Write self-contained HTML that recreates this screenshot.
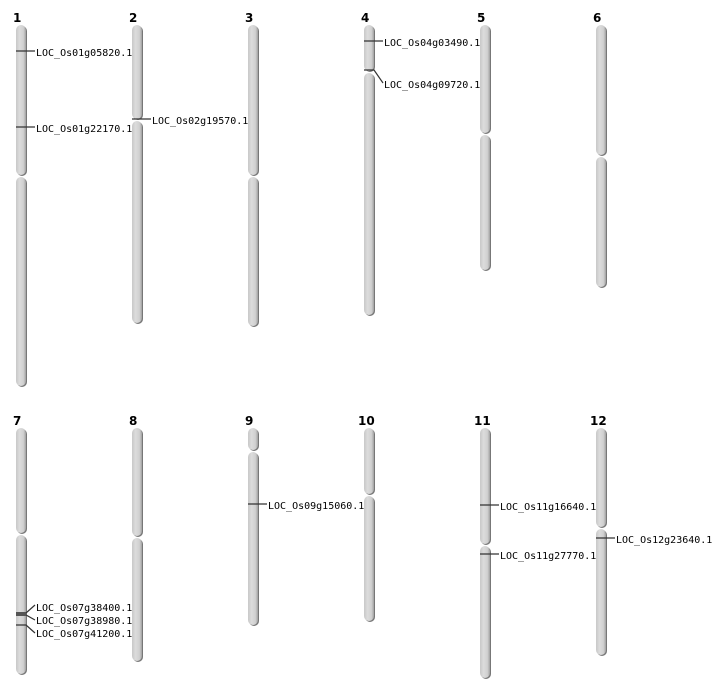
<!DOCTYPE html>
<html><head><style>
html,body{margin:0;padding:0;background:#fff;width:712px;height:700px;overflow:hidden}
text{font-family:"DejaVu Sans Mono","Liberation Mono",monospace;font-size:10px;fill:#000}
.n{font-family:"DejaVu Sans","Liberation Sans",sans-serif;font-weight:bold;font-size:12px}
</style></head><body>
<svg width="712" height="700" xmlns="http://www.w3.org/2000/svg">
<defs>
<linearGradient id="g" x1="0" x2="1" y1="0" y2="0">
<stop offset="0" stop-color="#c8c8c8"/><stop offset="0.35" stop-color="#dcdcdc"/><stop offset="0.75" stop-color="#d0d0d0"/><stop offset="1" stop-color="#a0a0a0"/>
</linearGradient>
</defs>
<g id="chroms"></g>
<g stroke="#333" stroke-width="1.2" fill="none">
<line x1="16" y1="51" x2="35" y2="51"/>
<line x1="16" y1="127" x2="35" y2="127"/>
<line x1="132" y1="119" x2="151" y2="119"/>
<line x1="364" y1="41" x2="383" y2="41"/>
<polyline points="364,70 374,70 383,83"/>
<line x1="248" y1="504" x2="267" y2="504"/>
<line x1="480" y1="505" x2="499" y2="505"/>
<line x1="480" y1="554" x2="499" y2="554"/>
<line x1="596" y1="538" x2="615" y2="538"/>
<polyline points="16,613 26,613 35,605"/>
<polyline points="16,615 26,615 35,620"/>
<polyline points="16,625 26,625 35,633"/>
</g>
<rect x="16" y="612" width="10" height="4" fill="#555"/>
<text class="n" x="13" y="22">1</text><text class="n" x="129" y="22">2</text><text class="n" x="245" y="22">3</text>
<text class="n" x="361" y="22">4</text><text class="n" x="477" y="22">5</text><text class="n" x="593" y="22">6</text>
<text class="n" x="13" y="425">7</text><text class="n" x="129" y="425">8</text><text class="n" x="245" y="425">9</text>
<text class="n" x="358" y="425">10</text><text class="n" x="474" y="425">11</text><text class="n" x="590" y="425">12</text>
<text x="36" y="56">LOC_Os01g05820.1</text>
<text x="36" y="132">LOC_Os01g22170.1</text>
<text x="152" y="124">LOC_Os02g19570.1</text>
<text x="384" y="46">LOC_Os04g03490.1</text>
<text x="384" y="88">LOC_Os04g09720.1</text>
<text x="268" y="509">LOC_Os09g15060.1</text>
<text x="500" y="510">LOC_Os11g16640.1</text>
<text x="500" y="559">LOC_Os11g27770.1</text>
<text x="616" y="543">LOC_Os12g23640.1</text>
<text x="36" y="611">LOC_Os07g38400.1</text>
<text x="36" y="624">LOC_Os07g38980.1</text>
<text x="36" y="637">LOC_Os07g41200.1</text>
</svg>
<script>
var segs=[[16,25,176,386],[132,25,120,323],[248,25,176,326],[364,25,72,315],[480,25,134,270],[596,25,156,287],
[16,428,534,674],[132,428,537,661],[248,428,451,625],[364,428,495,621],[480,428,545,678],[596,428,528,655]];
var g=document.getElementById('chroms'),s='';
segs.forEach(function(c){var x=c[0];
[[c[1],c[2]-1],[c[2]+1,c[3]]].forEach(function(p){
s+='<rect x="'+(x+1)+'" y="'+(p[0]+1)+'" width="10" height="'+(p[1]-p[0])+'" rx="5" fill="#777"/>';
s+='<rect x="'+x+'" y="'+p[0]+'" width="10" height="'+(p[1]-p[0])+'" rx="5" fill="url(#g)"/>';});});
g.innerHTML=s;
</script>
</body></html>
